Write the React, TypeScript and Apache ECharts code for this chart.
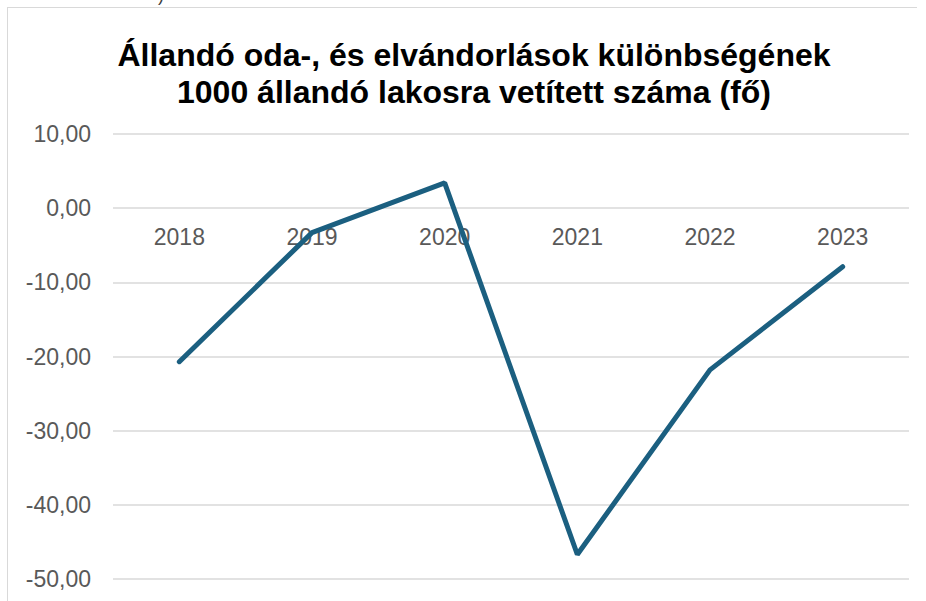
import React, { useEffect, useRef } from "react";
import * as echarts from "echarts";

const categories = ["2018", "2019", "2020", "2021", "2022", "2023"];
const values = [-20.7, -3.3, 3.4, -46.7, -21.8, -7.9];
const titleLines = [
  "Állandó oda-, és elvándorlások különbségének",
  "1000 állandó lakosra vetített száma (fő)",
];
const yMin = -50;
const yMax = 10;
const yStep = 10;

export default function App() {
  const ref = useRef<HTMLDivElement>(null);
  useEffect(() => {
    if (!ref.current) return;
    const chart = echarts.init(ref.current, undefined, { renderer: "svg" });
    const font = "'Liberation Sans', Arial, sans-serif";
    const gridTop = 134;
    const gridBottom = 22;
    const gridH = 601 - gridTop - gridBottom;
    const zeroOffset = -(gridH * (0 - yMin)) / (yMax - yMin);
    chart.setOption({
      animation: false,
      backgroundColor: "#ffffff",
      title: {
        text: titleLines.join("\n"),
        left: 469,
        top: 31,
        textAlign: "center",
        textStyle: {
          fontFamily: font,
          fontWeight: "bold",
          fontSize: 32,
          lineHeight: 37,
          color: "#000000",
        },
      },
      graphic: [
        {
          type: "line",
          shape: { x1: 7, y1: 7.5, x2: 917, y2: 7.5 },
          style: { stroke: "#d9d9d9", lineWidth: 1 },
        },
        {
          type: "line",
          shape: { x1: 7.5, y1: 7, x2: 7.5, y2: 601 },
          style: { stroke: "#d9d9d9", lineWidth: 1 },
        },
        {
          type: "text",
          x: 158,
          y: -14,
          style: { text: ")", font: `18px ${font}`, fill: "#404040" },
        },
      ],
      grid: {
        left: 113,
        right: 17,
        top: gridTop,
        bottom: gridBottom,
        containLabel: false,
        outerBoundsMode: "none",
      },
      xAxis: {
        type: "category",
        data: categories,
        boundaryGap: true,
        position: "bottom",
        offset: zeroOffset,
        axisLine: { show: false, onZero: false },
        axisTick: { show: false },
        axisLabel: {
          color: "#595959",
          fontSize: 23,
          fontFamily: font,
          margin: 17,
        },
      },
      yAxis: {
        type: "value",
        min: yMin,
        max: yMax,
        interval: yStep,
        axisLine: { show: false },
        axisTick: { show: false },
        splitLine: { lineStyle: { color: "#d9d9d9", width: 1.5 } },
        axisLabel: {
          color: "#595959",
          fontSize: 23,
          fontFamily: font,
          margin: 22,
          formatter: (v: number) => v.toFixed(2).replace(".", ","),
        },
      },
      series: [
        {
          type: "line",
          data: values,
          symbol: "none",
          lineStyle: { color: "#1b5f80", width: 5, cap: "round" },
        },
      ],
    });
    return () => chart.dispose();
  }, []);
  return (
    <div
      ref={ref}
      style={{ position: "fixed", left: 0, top: 0, width: 926, height: 601 }}
    />
  );
}
